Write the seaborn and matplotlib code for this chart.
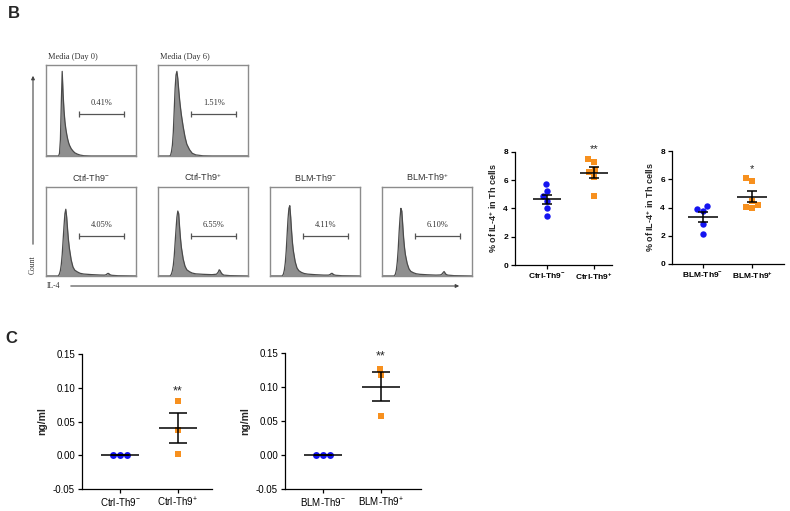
import numpy as np
import pandas as pd
import matplotlib
matplotlib.use("Agg")
import matplotlib.pyplot as plt
import seaborn as sns

sns.set_style("white")
plt.rcParams["font.family"] = ["Liberation Sans", "DejaVu Sans"]
plt.rcParams["mathtext.fontset"] = "custom"
plt.rcParams["mathtext.rm"] = "Liberation Sans"
plt.rcParams["mathtext.bf"] = "Liberation Sans:bold"
plt.rcParams["mathtext.default"] = "regular"

# ---- flow histograms (IL-4 channel, relative units) ----
hist_x = [0, 13, 14, 15, 16, 17, 18, 19, 20, 21, 22, 23, 24, 25, 26, 28, 30, 32, 35, 38, 42,
          50, 60, 65, 67, 68, 69, 70, 71, 73, 80, 100]
hist_day0 = [0, 0, 0, 3, 18, 58, 93, 68, 50, 38, 30, 24, 19, 15, 12, 8, 5.5, 3.5, 2, 1, 0.3,
             0, 0, 0, 0, 0, 0, 0, 0, 0, 0, 0]
hist_day6 = [0, 0, 1, 5, 12, 26, 50, 74, 89, 93, 85, 73, 62, 53, 45, 32, 21, 13, 7, 3, 1.2,
             0.2, 0, 0, 0, 0, 0, 0, 0, 0, 0, 0]
hist_ctrl_neg = [0, 0, 0.5, 2.5, 6, 13, 24, 40, 56, 70, 75, 66, 52, 40, 31, 18, 10, 6.5, 4.5, 3, 2.2,
                 1.6, 1.1, 1, 1.5, 2.5, 3, 2.5, 1.5, 0.8, 0.3, 0]
hist_ctrl_pos = [0, 0, 0.5, 2.5, 6, 12, 22, 37, 52, 66, 73, 70, 55, 42, 32, 19, 11, 7, 4.8, 3.3, 2.4,
                 1.9, 1.5, 2, 4.5, 7, 6, 4, 2.5, 1, 0.4, 0]
hist_blm_neg = [0, 0, 0.5, 2.5, 7, 15, 28, 46, 64, 76, 79, 66, 50, 37, 28, 16, 9, 6, 4, 2.8, 2.1,
                1.5, 1, 1, 1.8, 2.8, 3, 2.2, 1.4, 0.8, 0.3, 0]
hist_blm_pos = [0, 0, 0.5, 2.5, 7, 16, 30, 49, 65, 76, 73, 58, 43, 32, 24, 14, 8, 5.2, 3.6, 2.5, 1.9,
                1.4, 1, 1.2, 2.5, 4, 5, 3.5, 2, 1, 0.4, 0]
hist_titles = ["Media (Day 0)", "Media (Day 6)", r"Ctrl-Th9$^{-}$", r"Ctrl-Th9$^{+}$",
               r"BLM-Th9$^{-}$", r"BLM-Th9$^{+}$"]
gate_pct = ["0.41%", "1.51%", "4.05%", "6.55%", "4.11%", "6.10%"]

# ---- IL-4+ % in Th cells ----
ctrl_cats = [r"Ctrl-Th9$^{-}$", r"Ctrl-Th9$^{+}$"]
blm_cats = [r"BLM-Th9$^{-}$", r"BLM-Th9$^{+}$"]
il4_ctrl_neg = [5.7, 5.25, 4.9, 4.55, 4.05, 3.5]
il4_ctrl_pos = [7.5, 7.3, 6.7, 6.55, 6.25, 4.85]
il4_blm_neg = [4.1, 3.9, 3.75, 2.8, 2.1]
il4_blm_pos = [6.1, 5.85, 4.45, 4.2, 4.05, 3.95]

# ---- IL-9 ELISA (ng/ml) ----
elisa_ctrl_neg = [0.0, 0.0, 0.0]
elisa_ctrl_pos = [0.081, 0.038, 0.002]
elisa_blm_neg = [0.0, 0.0, 0.0]
elisa_blm_pos = [0.127, 0.117, 0.058]

BLUE = "#1414f0"
ORANGE = "#f7901e"
W, H = 790, 511


def rect(x0, y0, x1, y1):
    return [x0 / W, 1 - y1 / H, (x1 - x0) / W, (y1 - y0) / H]


fig = plt.figure(figsize=(7.9, 5.11), dpi=100)

hist_boxes = [rect(46, 65, 136, 156), rect(158, 65, 248, 156),
              rect(46, 187, 136, 276), rect(158, 187, 248, 276),
              rect(270, 187, 360, 276), rect(382, 187, 472, 276)]
hist_data = [hist_day0, hist_day6, hist_ctrl_neg, hist_ctrl_pos, hist_blm_neg, hist_blm_pos]

for i, (box, counts) in enumerate(zip(hist_boxes, hist_data)):
    ax = fig.add_axes(box)
    ax.fill_between(hist_x, counts, color="#8f8f8f", lw=0)
    sns.lineplot(x=hist_x, y=counts, ax=ax, color="#4a4a4a", lw=0.9, sort=False)
    ax.set_xlim(0, 100)
    ax.set_ylim(0, 100)
    ax.set_xticks([])
    ax.set_yticks([])
    for s in ax.spines.values():
        s.set_color("#8c8c8c")
        s.set_linewidth(1.0)
    gy = 46 if i < 2 else 45
    ax.plot([37, 87], [gy, gy], color="#555555", lw=0.9, marker="|", ms=4, mew=0.9)
    ax.text(62, gy + 12, gate_pct[i], ha="center", va="center", fontsize=6,
            family="Liberation Serif", color="#333333")
    if i < 2:
        ax.text(2, 104, hist_titles[i], ha="left", va="bottom", fontsize=6,
                family="Liberation Serif", color="#333333")
    else:
        ax.text(50, 105, hist_titles[i], ha="center", va="bottom", fontsize=6.5,
                color="#333333")

# axis arrows for histogram block
fig.add_artist(matplotlib.patches.FancyArrowPatch(
    (33 / W, 1 - 247 / H), (33 / W, 1 - 73 / H), transform=fig.transFigure,
    arrowstyle="-|>", mutation_scale=5, color="#444444", lw=0.8))
fig.add_artist(matplotlib.patches.FancyArrowPatch(
    (68 / W, 1 - 286 / H), (462 / W, 1 - 286 / H), transform=fig.transFigure,
    arrowstyle="-|>", mutation_scale=5, color="#444444", lw=0.8))
fig.text(33 / W, 1 - 265 / H, "Count", rotation=90, ha="center", va="center",
         fontsize=5.5, family="Liberation Serif", color="#333333")
fig.text(47 / W, 1 - 286 / H, "IL-4", ha="left", va="center",
         fontsize=5.5, family="Liberation Serif", color="#333333")


def dot_panel(ax, cats, v0, v1, size, half, cap, fs):
    df = pd.DataFrame({"group": [cats[0]] * len(v0) + [cats[1]] * len(v1),
                       "value": v0 + v1})
    sns.swarmplot(data=df[df.group == cats[0]], x="group", y="value", order=cats,
                  color=BLUE, marker="o", size=size, ax=ax, zorder=2)
    sns.swarmplot(data=df[df.group == cats[1]], x="group", y="value", order=cats,
                  color=ORANGE, marker="s", size=size, ax=ax, zorder=2)
    for k, v in enumerate([v0, v1]):
        m = np.mean(v)
        se = np.std(v, ddof=1) / np.sqrt(len(v))
        ax.hlines(m, k - half, k + half, color="black", lw=1.1, zorder=4)
        ax.errorbar(k, m, yerr=se, color="black", lw=1.1, capsize=cap,
                    capthick=1.1, zorder=4)
    ax.set_xticks([0, 1])
    ax.set_xticklabels(cats)
    ax.set_xlabel("")
    sns.despine(ax=ax)
    for s in ["left", "bottom"]:
        ax.spines[s].set_color("black")
        ax.spines[s].set_linewidth(0.9)
    ax.tick_params(axis="both", direction="out", length=3, width=0.9,
                   labelsize=fs, pad=2, colors="black", left=True, bottom=True)


# ---- panel B scatter ----
axb1 = fig.add_axes(rect(515, 152, 612, 265))
dot_panel(axb1, ctrl_cats, il4_ctrl_neg, il4_ctrl_pos, 4.6, 0.3, 3.5, 6)
axb1.set_xlim(-0.68, 1.38)
axb1.set_ylim(0, 8)
axb1.set_yticks([0, 2, 4, 6, 8])
axb1.text(1, 8.2, "**", ha="center", va="center", fontsize=8, clip_on=False)

axb2 = fig.add_axes(rect(672, 151, 784, 264))
dot_panel(axb2, blm_cats, il4_blm_neg, il4_blm_pos, 4.6, 0.3, 3.5, 6)
axb2.set_xlim(-0.63, 1.65)
axb2.set_ylim(0, 8)
axb2.set_yticks([0, 2, 4, 6, 8])
axb2.text(1, 6.75, "*", ha="center", va="center", fontsize=8)

for ax in [axb1, axb2]:
    ax.set_ylabel(r"% of IL-4$^{+}$ in Th cells", fontsize=6.5, fontweight="bold", labelpad=3)
    for lab in ax.get_xticklabels() + ax.get_yticklabels():
        lab.set_fontweight("bold")

# ---- panel C ----
axc1 = fig.add_axes(rect(82, 354, 212, 489))
dot_panel(axc1, ctrl_cats, elisa_ctrl_neg, elisa_ctrl_pos, 5, 0.33, 6.5, 7)
axc1.set_xlim(-0.66, 1.59)
axc1.text(1, 0.094, "**", ha="center", va="center", fontsize=9)

axc2 = fig.add_axes(rect(285, 353, 421, 489))
dot_panel(axc2, blm_cats, elisa_blm_neg, elisa_blm_pos, 5, 0.33, 6.5, 7)
axc2.set_xlim(-0.66, 1.69)
axc2.text(1, 0.145, "**", ha="center", va="center", fontsize=9)

for ax in [axc1, axc2]:
    ax.set_ylim(-0.05, 0.15)
    ax.set_yticks([-0.05, 0.0, 0.05, 0.10, 0.15])
    ax.set_yticklabels(["-0.05", "0.00", "0.05", "0.10", "0.15"])
    ax.set_ylabel("ng/ml", fontsize=7.5, fontweight="bold", labelpad=4)

fig.text(8 / W, 1 - 18 / H, "B", fontsize=12, fontweight="bold", ha="left", va="baseline")
fig.text(5 / W, 1 - 343 / H, "C", fontsize=12, fontweight="bold", ha="left", va="baseline")

fig.savefig("out.png", dpi=100)
